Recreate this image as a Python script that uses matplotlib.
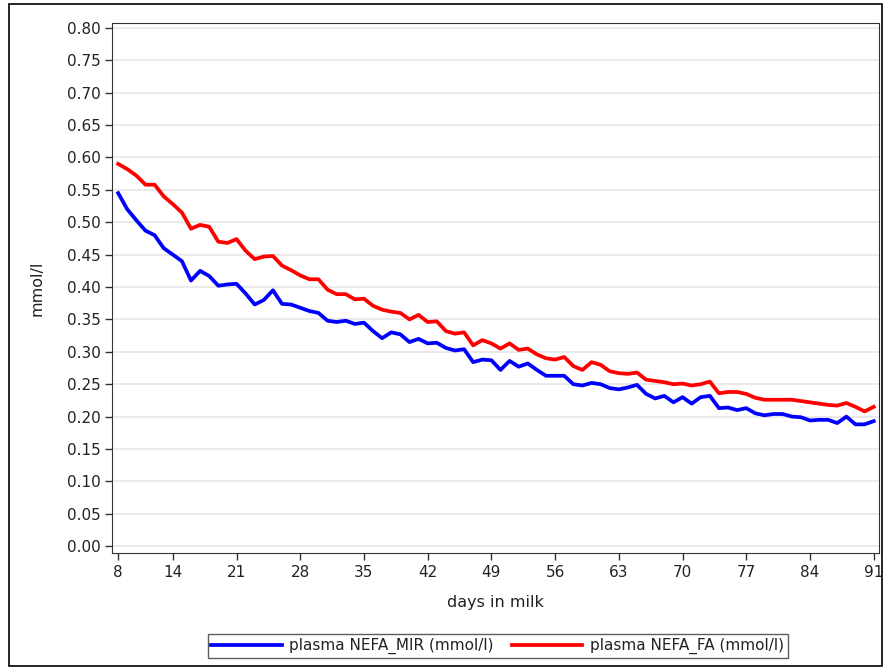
import matplotlib
matplotlib.use('Agg')
import matplotlib.pyplot as plt
from matplotlib.patches import Rectangle

# days in milk 8..91
days = list(range(8, 92))

nefa_mir = [0.545, 0.520, 0.503, 0.487, 0.480, 0.460, 0.450, 0.440, 0.410, 0.425,
            0.417, 0.402, 0.404, 0.405, 0.390, 0.373, 0.380, 0.395, 0.374, 0.373,
            0.368, 0.363, 0.360, 0.348, 0.346, 0.348, 0.343, 0.345, 0.332, 0.321,
            0.330, 0.327, 0.315, 0.320, 0.313, 0.314, 0.306, 0.302, 0.304, 0.284,
            0.288, 0.287, 0.272, 0.286, 0.277, 0.282, 0.272, 0.263, 0.263, 0.263,
            0.250, 0.248, 0.252, 0.250, 0.244, 0.242, 0.245, 0.249, 0.235, 0.228,
            0.232, 0.222, 0.230, 0.220, 0.230, 0.232, 0.213, 0.214, 0.210, 0.213,
            0.205, 0.202, 0.204, 0.204, 0.200, 0.199, 0.194, 0.195, 0.195, 0.190,
            0.200, 0.188, 0.188, 0.193]

nefa_fa = [0.590, 0.582, 0.572, 0.558, 0.558, 0.540, 0.528, 0.515, 0.490, 0.496,
           0.493, 0.470, 0.468, 0.474, 0.456, 0.443, 0.447, 0.448, 0.433, 0.426,
           0.418, 0.412, 0.412, 0.396, 0.389, 0.389, 0.381, 0.382, 0.371, 0.365,
           0.362, 0.360, 0.350, 0.357, 0.346, 0.347, 0.332, 0.328, 0.330, 0.310,
           0.318, 0.313, 0.305, 0.313, 0.303, 0.305, 0.296, 0.290, 0.288, 0.292,
           0.278, 0.272, 0.284, 0.280, 0.270, 0.267, 0.266, 0.268, 0.257, 0.255,
           0.253, 0.250, 0.251, 0.248, 0.250, 0.254, 0.236, 0.238, 0.238, 0.235,
           0.229, 0.226, 0.226, 0.226, 0.226, 0.224, 0.222, 0.220, 0.218, 0.217,
           0.221, 0.215, 0.208, 0.215]

xticks = [8, 14, 21, 28, 35, 42, 49, 56, 63, 70, 77, 84, 91]
yticks = [i * 0.05 for i in range(17)]

plt.rcParams['font.family'] = ['DejaVu Sans']

fig = plt.figure(figsize=(8.84, 6.69), dpi=100)
ax = fig.add_axes([0.127, 0.173, 0.867, 0.793])

ax.plot(days, nefa_mir, color='#0000ff', lw=2.7, label='plasma NEFA_MIR (mmol/l)')
ax.plot(days, nefa_fa, color='#ff0000', lw=2.7, label='plasma NEFA_FA (mmol/l)')

ax.set_xlim(7.35, 91.55)
ax.set_ylim(-0.011, 0.808)
ax.set_xticks(xticks)
ax.set_yticks(yticks)
ax.set_yticklabels(['%.2f' % v for v in yticks])
ax.yaxis.grid(True, color='#e6e6e6', lw=1.2)
ax.set_axisbelow(True)
ax.tick_params(labelsize=11, length=5, width=1, color='#333333', labelcolor='#222222')
for s in ax.spines.values():
    s.set_color('#333333')

ax.set_xlabel('days in milk', fontsize=11.5, labelpad=11, color='#222222')
ax.set_ylabel('mmol/l', fontsize=11.5, labelpad=16, color='#222222')

leg = fig.legend(loc='center', bbox_to_anchor=(0.563, 0.034), ncol=2, fontsize=11,
                 frameon=True, fancybox=False, edgecolor='#333333', handlelength=4.6,
                 borderpad=0.25, columnspacing=1.2, handletextpad=0.5)
leg.get_frame().set_linewidth(1)
for t in leg.get_texts():
    t.set_color('#222222')

fig.patches.append(Rectangle((0.010, 0.004), 0.988, 0.990, transform=fig.transFigure,
                             fill=False, edgecolor='black', lw=1.2))

fig.savefig('out.png', dpi=100)
